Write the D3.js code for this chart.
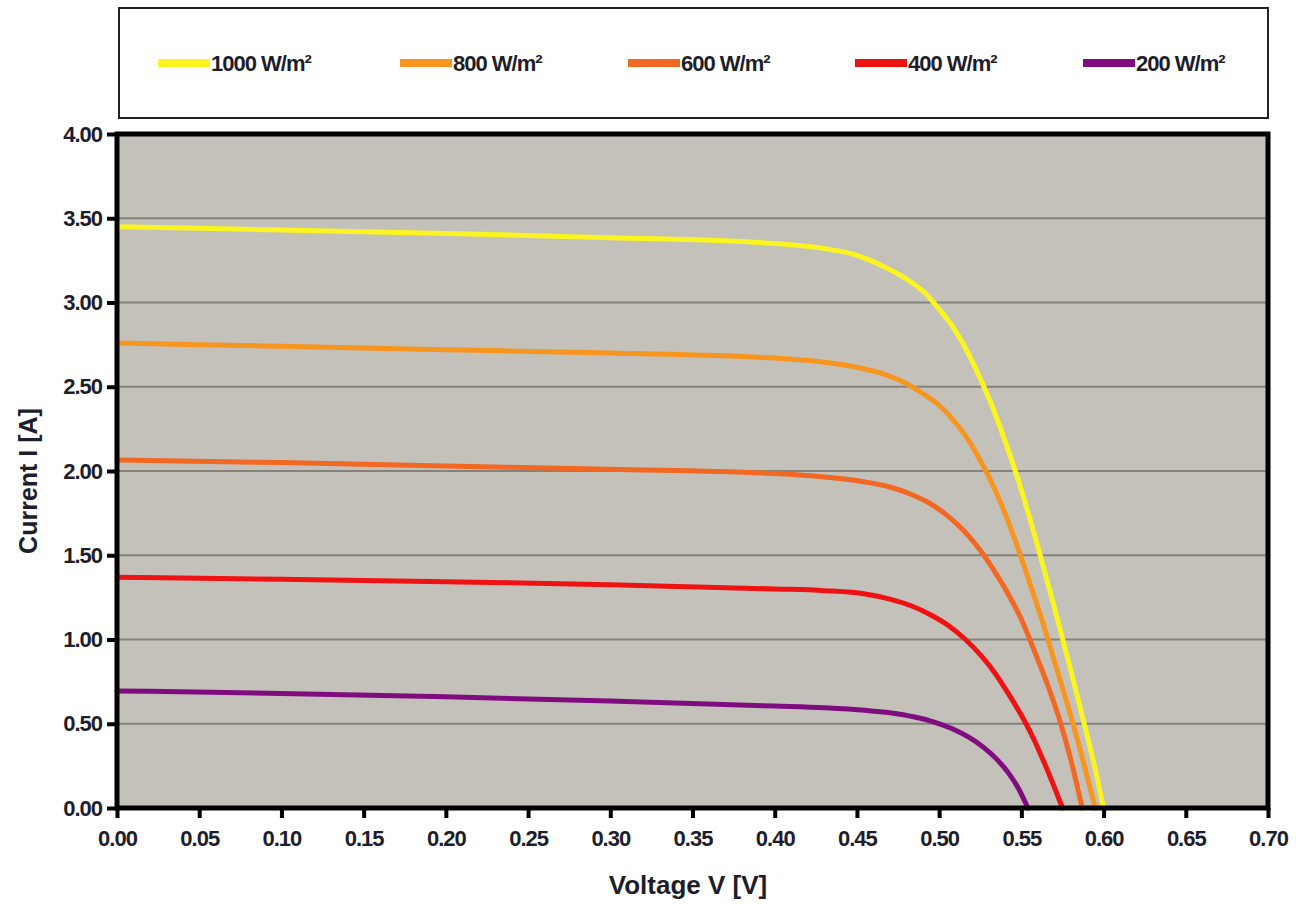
<!DOCTYPE html>
<html>
<head>
<meta charset="utf-8">
<script src="https://cdn.jsdelivr.net/npm/d3@7"></script>
<style>
  body { margin: 0; background: #fff; }
  text { font-family: "Liberation Sans", Arial, sans-serif; fill: #1d1d2b; }
</style>
</head>
<body>
<div id="chart"></div>
<script>
// Series labels and colours
var seriesNames = ["1000 W/m²", "800 W/m²", "600 W/m²", "400 W/m²", "200 W/m²"];
var seriesColors = ["#faf520", "#f7951e", "#f26721", "#ee1212", "#800d7f"];

// I-V points: [voltage V, current A]
var iv1000 = [[0, 3.45], [0.10, 3.43], [0.20, 3.41], [0.30, 3.385], [0.40, 3.35], [0.43, 3.32],
  [0.45, 3.28], [0.465, 3.22], [0.48, 3.14], [0.492, 3.05], [0.50, 2.96], [0.508, 2.86],
  [0.516, 2.73], [0.524, 2.57], [0.532, 2.39], [0.540, 2.18], [0.548, 1.95], [0.556, 1.69],
  [0.564, 1.41], [0.572, 1.12], [0.580, 0.82], [0.588, 0.51], [0.594, 0.27], [0.600, 0]];
var iv800 = [[0, 2.76], [0.10, 2.74], [0.20, 2.72], [0.30, 2.70], [0.40, 2.67], [0.43, 2.645],
  [0.45, 2.615], [0.465, 2.58], [0.478, 2.53], [0.49, 2.46], [0.50, 2.39], [0.508, 2.31],
  [0.516, 2.21], [0.524, 2.08], [0.532, 1.93], [0.540, 1.75], [0.548, 1.54], [0.556, 1.31],
  [0.564, 1.07], [0.572, 0.81], [0.580, 0.55], [0.587, 0.30], [0.595, 0]];
var iv600 = [[0, 2.065], [0.10, 2.05], [0.20, 2.03], [0.30, 2.01], [0.40, 1.985], [0.43, 1.965],
  [0.455, 1.935], [0.47, 1.905], [0.482, 1.865], [0.494, 1.81], [0.505, 1.735], [0.515, 1.645],
  [0.525, 1.53], [0.534, 1.40], [0.542, 1.27], [0.550, 1.12], [0.558, 0.93], [0.566, 0.73],
  [0.574, 0.50], [0.5805, 0.27], [0.587, 0]];
var iv400 = [[0, 1.37], [0.10, 1.357], [0.20, 1.343], [0.30, 1.325], [0.40, 1.30], [0.43, 1.29],
  [0.455, 1.27], [0.47, 1.24], [0.483, 1.20], [0.495, 1.145], [0.506, 1.08], [0.516, 1.00],
  [0.525, 0.91], [0.534, 0.80], [0.542, 0.68], [0.550, 0.55], [0.557, 0.42], [0.563, 0.29],
  [0.569, 0.15], [0.575, 0]];
var iv200 = [[0, 0.695], [0.10, 0.68], [0.20, 0.66], [0.30, 0.635], [0.40, 0.605], [0.43, 0.595],
  [0.455, 0.58], [0.47, 0.565], [0.485, 0.54], [0.497, 0.51], [0.508, 0.47], [0.518, 0.42],
  [0.527, 0.36], [0.535, 0.29], [0.542, 0.21], [0.548, 0.12], [0.554, 0]];
var seriesData = [iv1000, iv800, iv600, iv400, iv200];

// Tick values
var xTicks = [0, 0.05, 0.10, 0.15, 0.20, 0.25, 0.30, 0.35, 0.40, 0.45, 0.50, 0.55, 0.60, 0.65, 0.70];
var yTicks = [0, 0.5, 1.0, 1.5, 2.0, 2.5, 3.0, 3.5, 4.0];

// Layout
var W = 1301, H = 904;
var plot = {left: 117, right: 1268, top: 134, bottom: 808};
var legendX = [158, 400, 628, 855, 1083];

var svg = d3.select("#chart")
  .append("svg")
    .attr("width", W)
    .attr("height", H);

var x = d3.scaleLinear().domain([0, 0.70]).range([plot.left, plot.right]);
var y = d3.scaleLinear().domain([0, 4]).range([plot.bottom, plot.top]);

// Legend box
svg.append("rect")
  .attr("x", 119).attr("y", 8)
  .attr("width", 1149).attr("height", 110)
  .attr("fill", "#fff")
  .attr("stroke", "#222")
  .attr("stroke-width", 2);

var leg = svg.append("g").selectAll("g")
  .data(seriesNames)
  .enter().append("g")
    .attr("transform", function(d, i) { return "translate(" + legendX[i] + ",63)"; });
leg.append("line")
  .attr("x1", 0).attr("x2", 52)
  .attr("stroke", function(d, i) { return seriesColors[i]; })
  .attr("stroke-width", 8);
leg.append("text")
  .attr("x", 53).attr("y", 8)
  .attr("font-size", 22)
  .attr("font-weight", "bold")
  .attr("letter-spacing", -1)
  .text(function(d) { return d; });

// Plot background
svg.append("rect")
  .attr("x", plot.left).attr("y", plot.top)
  .attr("width", plot.right - plot.left)
  .attr("height", plot.bottom - plot.top)
  .attr("fill", "#c4c1ba");

// Grid lines
svg.append("g")
  .selectAll("line")
  .data(yTicks.filter(function(d) { return d > 0 && d < 4; }))
  .enter().append("line")
    .attr("x1", plot.left).attr("x2", plot.right)
    .attr("y1", function(d) { return y(d); })
    .attr("y2", function(d) { return y(d); })
    .attr("stroke", "#85827c")
    .attr("stroke-width", 2);

// Curves
var line = d3.line()
  .x(function(d) { return x(d[0]); })
  .y(function(d) { return y(d[1]); })
  .curve(d3.curveMonotoneX);

svg.append("g")
  .selectAll("path")
  .data(seriesData)
  .enter().append("path")
    .attr("fill", "none")
    .attr("stroke", function(d, i) { return seriesColors[i]; })
    .attr("stroke-width", 5)
    .attr("stroke-linecap", "round")
    .attr("d", line);

// Plot frame
svg.append("rect")
  .attr("x", plot.left).attr("y", plot.top)
  .attr("width", plot.right - plot.left)
  .attr("height", plot.bottom - plot.top)
  .attr("fill", "none")
  .attr("stroke", "#000")
  .attr("stroke-width", 5);

// X axis
var xAxis = svg.append("g")
  .attr("transform", "translate(0," + plot.bottom + ")")
  .call(d3.axisBottom(x).tickValues(xTicks).tickFormat(d3.format(".2f")).tickSize(10).tickPadding(12));
xAxis.select(".domain").remove();
xAxis.selectAll(".tick line").attr("stroke", "#000").attr("stroke-width", 4);
xAxis.selectAll(".tick text")
  .attr("font-size", 22).attr("font-weight", "bold").attr("letter-spacing", -1)
  .attr("font-family", "Liberation Sans, Arial, sans-serif").style("fill", "#1d1d2b");

// Y axis
var yAxis = svg.append("g")
  .attr("transform", "translate(" + plot.left + ",0)")
  .call(d3.axisLeft(y).tickValues(yTicks).tickFormat(d3.format(".2f")).tickSize(10).tickPadding(5));
yAxis.select(".domain").remove();
yAxis.selectAll(".tick line").attr("stroke", "#000").attr("stroke-width", 4);
yAxis.selectAll(".tick text")
  .attr("font-size", 22).attr("font-weight", "bold").attr("letter-spacing", -1)
  .attr("font-family", "Liberation Sans, Arial, sans-serif").style("fill", "#1d1d2b");

// Axis titles
svg.append("text")
  .attr("x", 688).attr("y", 894)
  .attr("text-anchor", "middle")
  .attr("font-size", 26)
  .attr("font-weight", "bold")
  .text("Voltage V [V]");

svg.append("text")
  .attr("transform", "translate(37,481) rotate(-90)")
  .attr("text-anchor", "middle")
  .attr("font-size", 25)
  .attr("font-weight", "bold")
  .text("Current I [A]");
</script>
</body>
</html>
